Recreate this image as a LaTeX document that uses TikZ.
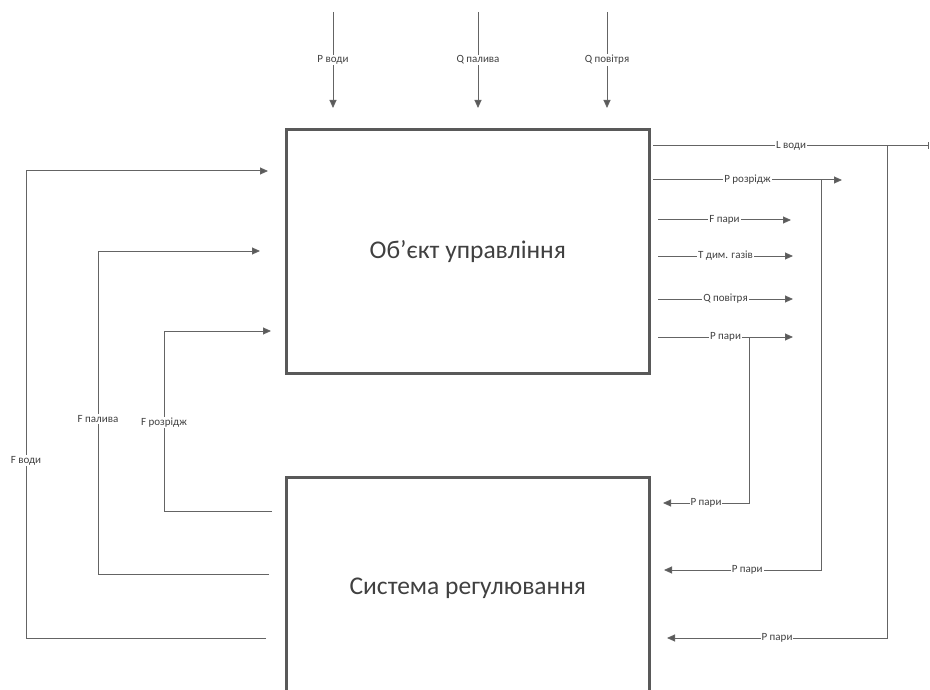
\documentclass[tikz,border=0pt]{standalone}
\usepackage{fontspec}
\setmainfont{Carlito}
\usetikzlibrary{arrows.meta}
\definecolor{boxc}{RGB}{89,89,89}
\definecolor{linec}{RGB}{100,100,100}
\definecolor{txtc}{RGB}{64,64,64}
\begin{document}
\begin{tikzpicture}[x=1pt,y=-1pt,
  box/.style={draw=boxc, line width=2.6pt, fill=none},
  conn/.style={draw=linec, line width=1pt, -{Triangle[length=8pt,width=7pt,fill=boxc]}},
  barend/.style={draw=linec, line width=1pt, -{Bar[width=7pt]}},
  lbl/.style={fill=white, inner sep=1pt, text=txtc, font=\fontsize{11}{12}\selectfont},
  big/.style={text=txtc, font=\fontsize{25.5}{30}\selectfont}]
\useasboundingbox (0,0) rectangle (930,690);
\clip (0,0) rectangle (930,690);

% boxes
\node[box, minimum width=363pt, minimum height=244pt, anchor=north west] (obj) at (285,128) {};
\node[big] (objt) at (obj.center) {Об’єкт управління};
\node[box, minimum width=363pt, minimum height=222pt, anchor=north west] (sys) at (285,476) {};
\node[big] (syst) at (sys.center) {Система регулювання};

% top inputs
\coordinate (pv0) at (333,12);  \coordinate (pv1) at (333,108);
\coordinate (qp0) at (478,12);  \coordinate (qp1) at (478,108);
\coordinate (qa0) at (607,12);  \coordinate (qa1) at (607,108);
\draw[conn] (pv0) -- node[lbl] (lpv) {P води} (pv1);
\draw[conn] (qp0) -- node[lbl] (lqp) {Q палива} (qp1);
\draw[conn] (qa0) -- node[lbl] (lqa) {Q повітря} (qa1);

% right outputs
\coordinate (lv0) at (653,146); \coordinate (lv1) at (929,146);
\coordinate (lvj) at (887,146); \coordinate (lvb) at (887,638); \coordinate (lve) at (667,638);
\draw[barend] (lv0) -- node[lbl] (llv) {L води} (lv1);
\draw[conn] (lvj) -- (lvb) -- node[lbl] (lpp3) {P пари} (lve);

\coordinate (pr0) at (653,180); \coordinate (pr1) at (842,180);
\coordinate (prj) at (821,180); \coordinate (prb) at (821,570); \coordinate (pre) at (664,570);
\draw[conn] (pr0) -- node[lbl] (lpr) {P розрідж} (pr1);
\draw[conn] (prj) -- (prb) -- node[lbl,pos=0.47] (lpp2) {P пари} (pre);

\coordinate (fp0) at (658,220); \coordinate (fp1) at (791,220);
\draw[conn] (fp0) -- node[lbl] (lfp) {F пари} (fp1);
\coordinate (td0) at (658,256); \coordinate (td1) at (793,256);
\draw[conn] (td0) -- node[lbl] (ltd) {T дим. газів} (td1);
\coordinate (qo0) at (658,299); \coordinate (qo1) at (793,299);
\draw[conn] (qo0) -- node[lbl] (lqo) {Q повітря} (qo1);
\coordinate (pp0) at (658,337); \coordinate (pp1) at (793,337);
\coordinate (ppj) at (749,337); \coordinate (ppb) at (749,503); \coordinate (ppe) at (663,503);
\draw[conn] (pp0) -- node[lbl,pos=0.5] (lpp) {P пари} (pp1);
\draw[conn] (ppj) -- (ppb) -- node[lbl] (lpp1) {P пари} (ppe);

% left feedback
\coordinate (fv0) at (266,638); \coordinate (fva) at (26,638); \coordinate (fvb) at (26,171); \coordinate (fv1) at (268,171);
\draw[conn] (fv0) -- (fva) -- node[lbl,pos=0.38] (lfv) {F води} (fvb) -- (fv1);
\coordinate (fl0) at (269,574); \coordinate (fla) at (98,574); \coordinate (flb) at (98,251); \coordinate (fl1) at (260,251);
\draw[conn] (fl0) -- (fla) -- node[lbl,pos=0.48] (lfl) {F палива} (flb) -- (fl1);
\coordinate (fr0) at (272,511); \coordinate (fra) at (164,511); \coordinate (frb) at (164,331); \coordinate (fr1) at (271,331);
\draw[conn] (fr0) -- (fra) -- node[lbl,pos=0.49] (lfr) {F розрідж} (frb) -- (fr1);
\end{tikzpicture}
\end{document}
